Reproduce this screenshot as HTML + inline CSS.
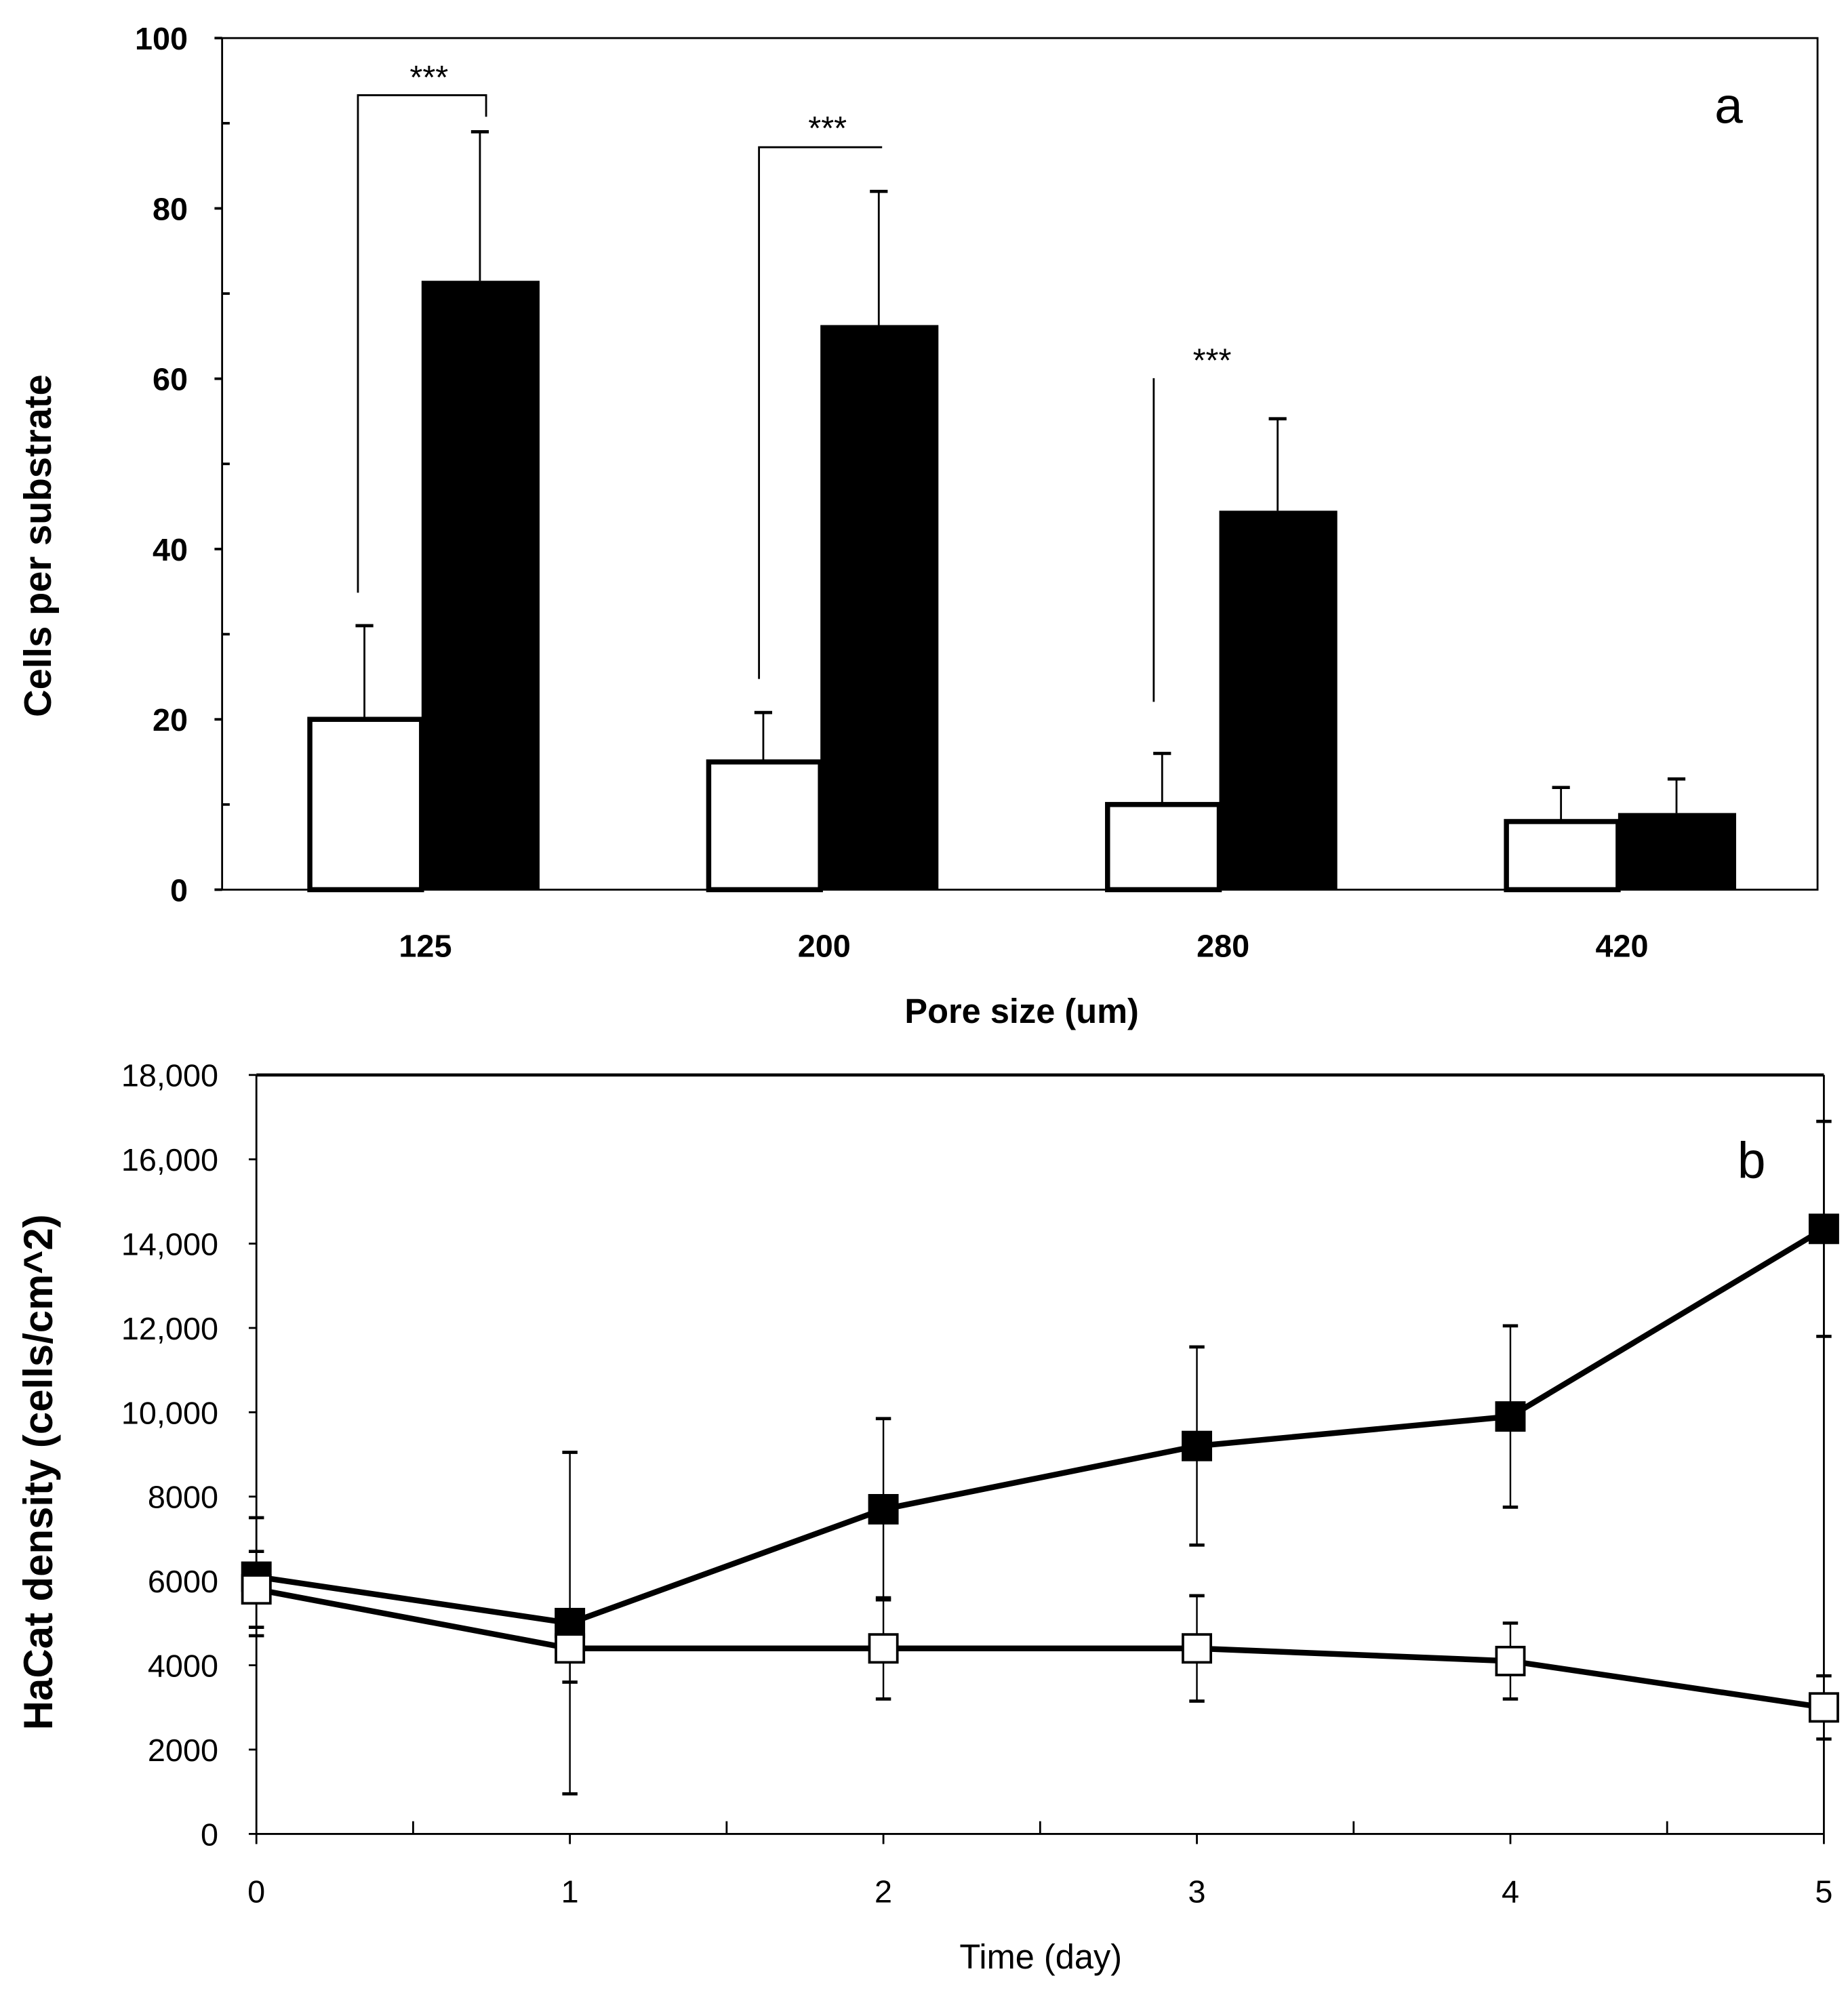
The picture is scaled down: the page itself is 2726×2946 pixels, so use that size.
<!DOCTYPE html>
<html><head><meta charset="utf-8"><style>
html,body{margin:0;padding:0;background:#fff}
svg{display:block}
text{font-family:"Liberation Sans",sans-serif;fill:#000}
</style></head><body>
<svg id="fig" width="2726" height="2946" viewBox="0 0 1456 1573.5" xmlns="http://www.w3.org/2000/svg">
<g id="chartA"></g>
<g id="chartB"></g>
</svg>
<script>
// ---- Chart A data ----
const categoriesA = ["125","200","280","420"];
const whiteVals = [20,15,10,8];
const whiteErr = [11,5.8,6,4];
const blackVals = [71.5,66.3,44.5,9];
const blackErr = [17.5,15.7,10.8,4];
const yTicksA = [0,20,40,60,80,100];
// ---- Chart B data ----
const days = [0,1,2,3,4,5];
const blackSeries = [6100,5000,7700,9200,9900,14350];
const blackSeriesErr = [1400,4050,2150,2350,2150,2550];
const whiteSeries = [5800,4400,4400,4400,4100,3000];
const whiteSeriesErr = [900,800,1200,1250,900,750];
const yTicksB = [0,2000,4000,6000,8000,10000,12000,14000,16000,18000];
const yTickLabelsB = ["0","2000","4000","6000","8000","10,000","12,000","14,000","16,000","18,000"];

const NS="http://www.w3.org/2000/svg";
function mk(parent,tag,attrs,txt){const e=document.createElementNS(NS,tag);for(const k in attrs)e.setAttribute(k,attrs[k]);if(txt!==undefined)e.textContent=txt;parent.appendChild(e);return e;}

// ===== Chart A =====
const gA=document.getElementById('chartA');
const aL=175,aR=1432,aT=30,aB=701;
const yA=v=>aB-(v/100)*(aB-aT);
const catW=(aR-aL)/categoriesA.length;
const cxA=i=>aL+catW*(i+0.5);
let e;
e=mk(gA,'rect',{x:aL,y:aT,width:aR-aL,height:aB-aT,fill:'none',stroke:'#000','stroke-width':1.5});


for(let v=0;v<=100;v+=10){
  e=mk(gA,'line',{x1:aL-(v%20===0?6:0),x2:aL+(v%20===0?0:6),y1:yA(v),y2:yA(v),stroke:'#000','stroke-width':2});
  
  
}
yTicksA.forEach(v=>{
  e=mk(gA,'text',{x:148,y:yA(v)+9,'text-anchor':'end','font-size':25,'font-weight':'bold'},String(v));
  
  
});
categoriesA.forEach((c,i)=>{
  const cx=cxA(i);
  const wt=yA(whiteVals[i]+whiteErr[i]), bt=yA(blackVals[i]+blackErr[i]);
  e=mk(gA,'line',{x1:cx-45,x2:cx-45,y1:yA(whiteVals[i]),y2:wt,stroke:'#000','stroke-width':1.5});
  
  
  e=mk(gA,'line',{x1:cx-52,x2:cx-38,y1:wt,y2:wt,stroke:'#000','stroke-width':2.5});
  
  
  e=mk(gA,'line',{x1:cx+46,x2:cx+46,y1:yA(blackVals[i]),y2:bt,stroke:'#000','stroke-width':1.5});
  
  
  e=mk(gA,'line',{x1:cx+39,x2:cx+53,y1:bt,y2:bt,stroke:'#000','stroke-width':2.5});
  
  
  e=mk(gA,'rect',{x:cx-88,y:yA(whiteVals[i]),width:88,height:aB-yA(whiteVals[i]),fill:'#fff',stroke:'#000','stroke-width':4});
  
  
  e=mk(gA,'rect',{x:cx,y:yA(blackVals[i]),width:93,height:aB-yA(blackVals[i]),fill:'#000'});
  
  
  e=mk(gA,'text',{x:cx+3,y:754,'text-anchor':'middle','font-size':25,'font-weight':'bold'},c);
  
  
});
function bracket(x1,y1,ytop,x2,y2,sx,sy){
  e=mk(gA,'polyline',{points:x2===null?`${x1},${y1} ${x1},${ytop}`:`${x1},${y1} ${x1},${ytop} ${x2},${ytop} ${x2},${y2}`,fill:'none',stroke:'#000','stroke-width':1.5});
  
  
  e=mk(gA,'text',{x:sx,y:sy,'text-anchor':'middle','font-size':26},'***');
  
  
}
bracket(282,467,75,383,92,338,70);
bracket(598,535,116,695,116,652,110);
bracket(909,553,298,null,null,955,293);
e=mk(gA,'text',{x:1362,y:97,'text-anchor':'middle','font-size':40},'a');


e=mk(gA,'text',{x:805,y:806,'text-anchor':'middle','font-size':27,'font-weight':'bold'},'Pore size (um)');


e=mk(gA,'text',{x:0,y:0,'text-anchor':'middle','font-size':30,'font-weight':'bold',transform:'translate(40,430) rotate(-90)'},'Cells per substrate');



// ===== Chart B =====
const gB=document.getElementById('chartB');
const bL=202,bR=1437,bT=847,bB=1445;
const yB=v=>bB-(v/18000)*(bB-bT);
const xB=d=>bL+(d/5)*(bR-bL);
e=mk(gB,'line',{x1:bL,x2:bL,y1:bT,y2:bB,stroke:'#000','stroke-width':1.5});


e=mk(gB,'line',{x1:bL,x2:bR,y1:bB,y2:bB,stroke:'#000','stroke-width':1.5});


e=mk(gB,'line',{x1:bL,x2:bR,y1:bT,y2:bT,stroke:'#000','stroke-width':2.5});


e=mk(gB,'line',{x1:bR,x2:bR,y1:bT,y2:bB,stroke:'#000','stroke-width':1.5});


yTicksB.forEach((v,i)=>{
  e=mk(gB,'line',{x1:bL-6,x2:bL,y1:yB(v),y2:yB(v),stroke:'#000','stroke-width':1.5});
  
  
  e=mk(gB,'text',{x:172,y:yB(v)+9,'text-anchor':'end','font-size':25},yTickLabelsB[i]);
  
  
});
for(let d=0;d<=5;d+=0.5){
  e=mk(gB,'line',{x1:xB(d),x2:xB(d),y1:bB-(d%1===0?0:10),y2:bB+(d%1===0?8:0),stroke:'#000','stroke-width':1.5});
  
  
}
days.forEach(d=>{
  e=mk(gB,'text',{x:xB(d),y:1499,'text-anchor':'middle','font-size':25},String(d));
  
  
});
function series(vals,errs,fill,name){
  days.forEach((d,i)=>{
    const x=xB(d),t=yB(vals[i]+errs[i]),b=yB(vals[i]-errs[i]);
    e=mk(gB,'line',{x1:x,x2:x,y1:t,y2:b,stroke:'#000','stroke-width':1.3});
    
    
    [t,b].forEach(y=>{
      e=mk(gB,'line',{x1:x-6,x2:x+6,y1:y,y2:y,stroke:'#000','stroke-width':2.5});
      
      
    });
  });
  e=mk(gB,'polyline',{points:days.map((d,i)=>xB(d)+','+yB(vals[i])).join(' '),fill:'none',stroke:'#000','stroke-width':4.5});
  
  
  days.forEach((d,i)=>{
    e=mk(gB,'rect',{x:xB(d)-11,y:yB(vals[i])-11,width:22,height:22,fill:fill,stroke:'#000','stroke-width':2});
    
    
  });
}
series(blackSeries,blackSeriesErr,'#000','black-series');
series(whiteSeries,whiteSeriesErr,'#fff','white-series');
e=mk(gB,'text',{x:1380,y:928,'text-anchor':'middle','font-size':40},'b');


e=mk(gB,'text',{x:820,y:1551,'text-anchor':'middle','font-size':27},'Time (day)');


e=mk(gB,'text',{x:0,y:0,'text-anchor':'middle','font-size':32,'font-weight':'bold',transform:'translate(41,1160) rotate(-90)'},'HaCat density (cells/cm^2)');


</script>
</body></html>
